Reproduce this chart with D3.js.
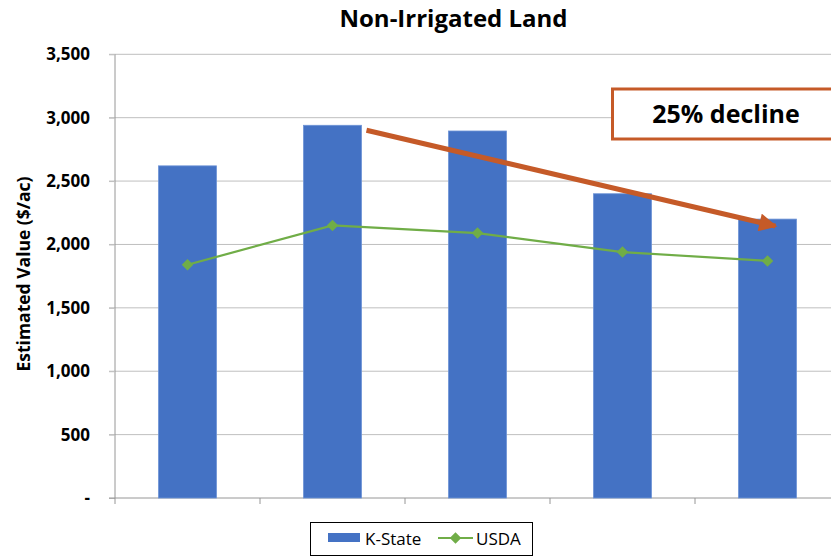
<!DOCTYPE html>
<html><head><meta charset="utf-8">
<script src="https://cdn.jsdelivr.net/npm/d3@7"></script>
<style>body{margin:0;background:#fff;} text{font-family:"Open Sans",sans-serif;}</style>
</head><body>
<svg id="c" width="831" height="557"></svg>
<script>
const categories = ["2015","2016","2017","2018","2019"];
const kstate = [2620, 2940, 2895, 2400, 2200];
const usda = [1840, 2150, 2090, 1940, 1870];
const yTicks = [0, 500, 1000, 1500, 2000, 2500, 3000, 3500];
const title = "Non-Irrigated Land";
const yTitle = "Estimated Value ($/ac)";
const annotation = "25% decline";

const FONT = "'Open Sans', sans-serif";
const svg = d3.select("#c");
const pL = 115, pR = 840, pT = 54.3, pB = 498;
const x = d3.scaleBand().domain(categories).range([pL, pR]).paddingInner(0.6).paddingOuter(0.3);
const xb = d3.scaleBand().domain(categories).range([pL, pR]);
const y = d3.scaleLinear().domain([0, 3500]).range([pB, pT]);

// gridlines
svg.append("g").selectAll("line").data(yTicks.filter(d => d > 0)).join("line")
  .attr("x1", pL - 6).attr("x2", 831).attr("y1", d => y(d)).attr("y2", d => y(d))
  .attr("stroke", "#bfbfbf").attr("stroke-width", 1);

// y axis
const yAxis = d3.axisLeft(y).tickValues(yTicks).tickSize(6).tickPadding(19)
  .tickFormat(d => d === 0 ? "-" : d3.format(",")(d));
const ya = svg.append("g").attr("transform", `translate(${pL},0)`).call(yAxis);
ya.attr("font-size", null).attr("font-family", null);
ya.select(".domain").attr("stroke", "#969696").attr("d", `M0,${pT}V${pB}`);
ya.selectAll(".tick line").attr("stroke", "#bfbfbf");
ya.selectAll(".tick text").style("font-size", "17px").style("font-weight", "bold").attr("fill", "#000")
  .style("font-family", FONT);

// x axis
const xa = svg.append("g").attr("transform", `translate(0,${pB})`);
xa.append("line").attr("x1", pL - 6).attr("x2", 831).attr("stroke", "#969696");
xa.selectAll("line.t").data(categories.concat(["end"])).join("line").attr("class", "t")
  .attr("x1", (d, i) => pL + i * xb.bandwidth()).attr("x2", (d, i) => pL + i * xb.bandwidth())
  .attr("y1", 0).attr("y2", 6).attr("stroke", "#969696");

// bars
svg.append("g").selectAll("rect").data(kstate).join("rect")
  .attr("x", (d, i) => x(categories[i])).attr("width", x.bandwidth())
  .attr("y", d => y(d)).attr("height", d => pB - y(d))
  .attr("fill", "#4472C4").attr("stroke", "#6d93d6").attr("stroke-width", 0.8);

// USDA line
const cx = (i) => x(categories[i]) + x.bandwidth() / 2;
svg.append("path").datum(usda)
  .attr("d", d3.line().x((d, i) => cx(i)).y(d => y(d)))
  .attr("fill", "none").attr("stroke", "#70AD47").attr("stroke-width", 2.2);
svg.append("g").selectAll("path").data(usda).join("path")
  .attr("d", d3.symbol(d3.symbolDiamond2, 85))
  .attr("transform", (d, i) => `translate(${cx(i)},${y(d)})`)
  .attr("fill", "#70AD47");

// title
svg.append("text").attr("x", 453.5).attr("y", 27).attr("text-anchor", "middle")
  .attr("font-size", 24).attr("font-weight", "bold").text(title);

// y title
svg.append("text").attr("transform", `translate(30,274) rotate(-90)`).attr("text-anchor", "middle")
  .attr("font-size", 17.5).attr("font-weight", "bold").text(yTitle);

// annotation arrow
svg.append("defs").append("marker").attr("id", "ah").attr("viewBox", "0 0 10 10")
  .attr("refX", 9).attr("refY", 5).attr("markerWidth", 4).attr("markerHeight", 3.6)
  .attr("orient", "auto").attr("markerUnits", "strokeWidth")
  .append("path").attr("d", "M0,0L10,5L0,10Z").attr("fill", "#C55A28");
const ax1 = cx(1) + 34, ay1 = y(kstate[1]) + 5, ax2 = cx(4) + 8, ay2 = y(kstate[4]) + 7;
svg.append("line").attr("x1", ax1).attr("y1", ay1).attr("x2", ax2).attr("y2", ay2)
  .attr("stroke", "#C55A28").attr("stroke-width", 5).attr("marker-end", "url(#ah)");

// annotation box
svg.append("rect").attr("x", 612.5).attr("y", 89).attr("width", 230).attr("height", 50)
  .attr("fill", "#fff").attr("stroke", "#C55A28").attr("stroke-width", 3);
svg.append("text").attr("x", 726).attr("y", 123).attr("text-anchor", "middle")
  .attr("font-size", 25).attr("font-weight", "bold").text(annotation);

// legend
const lg = svg.append("g");
lg.append("rect").attr("x", 310.5).attr("y", 522.5).attr("width", 222).attr("height", 33)
  .attr("fill", "#fff").attr("stroke", "#000").attr("stroke-width", 1);
lg.append("rect").attr("x", 328).attr("y", 533).attr("width", 32).attr("height", 9).attr("fill", "#4472C4");
lg.append("text").attr("x", 365).attr("y", 545).attr("font-size", 17).text("K-State");
lg.append("line").attr("x1", 438).attr("x2", 473).attr("y1", 538).attr("y2", 538)
  .attr("stroke", "#70AD47").attr("stroke-width", 2.2);
lg.append("path").attr("d", d3.symbol(d3.symbolDiamond2, 85)).attr("transform", "translate(455.5,538)").attr("fill", "#70AD47");
lg.append("text").attr("x", 476).attr("y", 545).attr("font-size", 17).text("USDA");
</script>
</body></html>
